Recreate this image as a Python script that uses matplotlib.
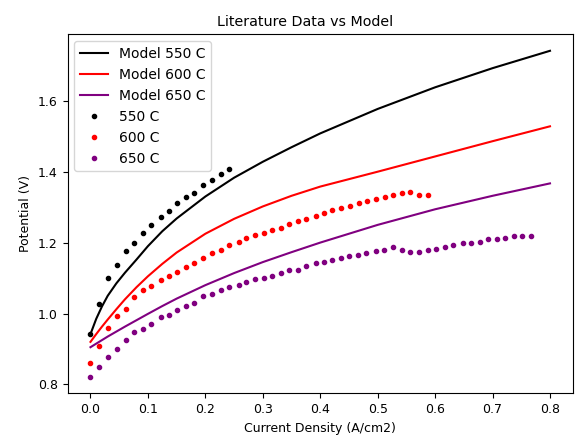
import matplotlib
matplotlib.use("Agg")
import matplotlib.pyplot as plt

# model curves
model_x = [0.0, 0.01, 0.02, 0.03, 0.045, 0.06, 0.08, 0.1, 0.125, 0.15,
           0.2, 0.25, 0.3, 0.35, 0.4, 0.5, 0.6, 0.7, 0.8]
model_550 = [0.942, 0.985, 1.02, 1.05, 1.085, 1.115, 1.152, 1.19, 1.232, 1.268,
             1.33, 1.383, 1.428, 1.469, 1.508, 1.577, 1.638, 1.692, 1.741]
model_600 = [0.92, 0.942, 0.963, 0.983, 1.012, 1.04, 1.074, 1.105, 1.14, 1.172,
             1.225, 1.267, 1.302, 1.332, 1.358, 1.4, 1.443, 1.486, 1.528]
model_650 = [0.905, 0.915, 0.925, 0.935, 0.949, 0.963, 0.981, 0.999, 1.021, 1.042,
             1.08, 1.114, 1.145, 1.173, 1.2, 1.25, 1.294, 1.332, 1.367]

# literature data points
lit_550_x = [0.0, 0.015, 0.030, 0.046, 0.061, 0.076, 0.091, 0.106, 0.122, 0.136,
             0.151, 0.166, 0.181, 0.196, 0.211, 0.227, 0.241]
lit_550_y = [0.942, 1.027, 1.10, 1.137, 1.175, 1.198, 1.226, 1.251, 1.271, 1.29,
             1.311, 1.33, 1.339, 1.363, 1.377, 1.394, 1.408]

lit_600_x = [0.0, 0.014, 0.030, 0.046, 0.061, 0.076, 0.091, 0.106, 0.122, 0.136,
             0.151, 0.166, 0.181, 0.196, 0.211, 0.227, 0.241, 0.258, 0.271, 0.287,
             0.302, 0.316, 0.332, 0.345, 0.361, 0.376, 0.392, 0.406, 0.421, 0.437,
             0.452, 0.467, 0.481, 0.497, 0.513, 0.527, 0.542, 0.557, 0.572, 0.587]
lit_600_y = [0.86, 0.907, 0.959, 0.993, 1.013, 1.046, 1.065, 1.079, 1.095, 1.107,
             1.118, 1.131, 1.142, 1.156, 1.170, 1.178, 1.192, 1.201, 1.212, 1.221,
             1.227, 1.236, 1.242, 1.253, 1.262, 1.267, 1.274, 1.283, 1.293, 1.298,
             1.303, 1.312, 1.316, 1.323, 1.33, 1.334, 1.34, 1.344, 1.334, 1.334]

lit_650_x = [0.0, 0.014, 0.030, 0.046, 0.061, 0.076, 0.091, 0.106, 0.122, 0.136,
             0.151, 0.166, 0.181, 0.196, 0.211, 0.227, 0.241, 0.258, 0.271, 0.287,
             0.302, 0.316, 0.332, 0.345, 0.361, 0.376, 0.392, 0.406, 0.421, 0.436,
             0.450, 0.466, 0.479, 0.497, 0.511, 0.527, 0.542, 0.556, 0.572, 0.587,
             0.601, 0.617, 0.632, 0.648, 0.663, 0.678, 0.692, 0.707, 0.722, 0.738,
             0.752, 0.767]
lit_650_y = [0.821, 0.849, 0.877, 0.901, 0.926, 0.948, 0.955, 0.971, 0.99, 0.996,
             1.011, 1.021, 1.03, 1.048, 1.056, 1.067, 1.074, 1.081, 1.09, 1.097,
             1.10, 1.107, 1.115, 1.124, 1.124, 1.135, 1.142, 1.145, 1.152, 1.157,
             1.162, 1.164, 1.171, 1.176, 1.18, 1.187, 1.18, 1.173, 1.173, 1.178,
             1.182, 1.187, 1.194, 1.198, 1.199, 1.203, 1.209, 1.209, 1.213, 1.218,
             1.22, 1.22]

plt.rcParams['font.size'] = 9

fig = plt.figure(figsize=(5.78, 4.41), dpi=100)
ax = fig.add_axes([0.1168, 0.1082, 0.8745, 0.8136])

ax.plot(model_x, model_550, color="black", label="Model 550 C")
ax.plot(model_x, model_600, color="red", label="Model 600 C")
ax.plot(model_x, model_650, color="purple", label="Model 650 C")
ax.plot(lit_550_x, lit_550_y, ".", color="black", markersize=6, label="550 C")
ax.plot(lit_600_x, lit_600_y, ".", color="red", markersize=6, label="600 C")
ax.plot(lit_650_x, lit_650_y, ".", color="purple", markersize=6, label="650 C")

ax.set_xlabel("Current Density (A/cm2)")
ax.set_ylabel("Potential (V)")
ax.set_title("Literature Data vs Model", fontsize=10.3, x=0.47)
ax.legend(loc="upper left", numpoints=1, fontsize=10)

fig.savefig("out.png", dpi=100)
